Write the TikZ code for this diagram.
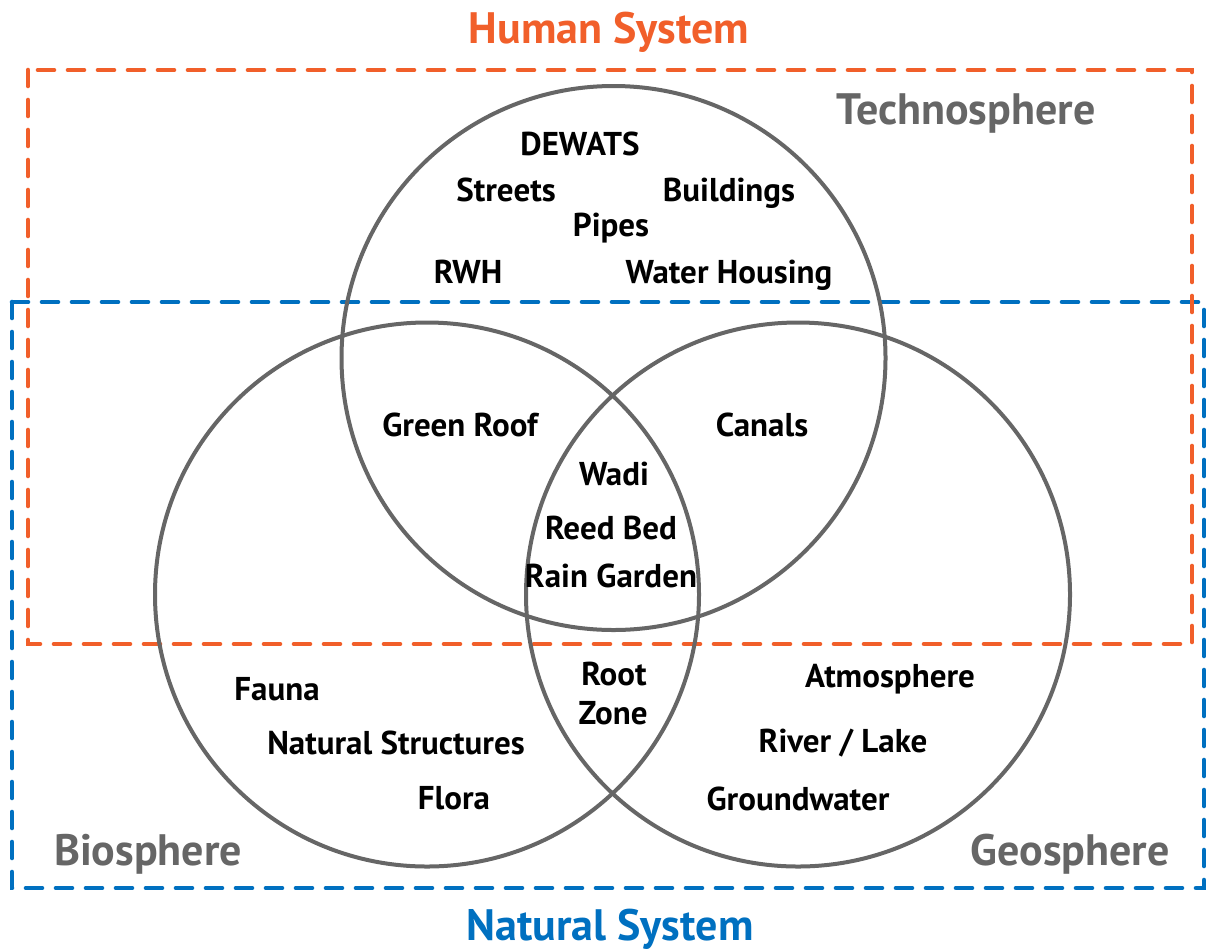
\documentclass[tikz,border=0pt]{standalone}
\usepackage{fontspec}
\setmainfont{PT Sans}
\usepackage{tikz}
\usetikzlibrary{positioning}
\definecolor{humanorange}{HTML}{F15F2A}
\definecolor{natureblue}{HTML}{0070C0}
\definecolor{ringgray}{HTML}{666666}
\newcommand{\mLabel}[3]{\node[inner] (#1) at (#2) {#3}}
\newcommand{\mSphere}[3]{\node[sphere] (#1) at (#2) {#3}}
\tikzset{
  inner/.style={font=\fontsize{33}{33}\selectfont\bfseries, anchor=base, inner sep=0pt},
  sphere/.style={font=\fontsize{44}{44}\selectfont\bfseries, text=ringgray, anchor=base, inner sep=0pt},
  system/.style={font=\fontsize{44}{44}\selectfont\bfseries, anchor=base, inner sep=0pt},
  ring/.style={draw=ringgray, line width=4pt},
  bound/.style={line width=4.6pt, line cap=round, dash pattern=on 16pt off 14pt},
}

\begin{document}
\begin{tikzpicture}[x=1pt,y=1pt]
    \useasboundingbox (0,0) rectangle (1206,-951);
    % system boxes
    \draw [bound, natureblue] (12,-302) rectangle (1204,-888);
    \draw [bound, humanorange] (28,-70) rectangle (1192,-644);
    \node[system, text=humanorange] (human) at (609,-43) {Human System};
    \node[system, text=natureblue] (natural) at (610,-940) {Natural System};
    % the three spheres
    \coordinate (techno) at (613.5,-358);
    \coordinate (bio) at (427,-594.5);
    \coordinate (geo) at (798,-594.5);
    \draw [ring] (techno) circle (272);
    \draw [ring] (bio) circle (272);
    \draw [ring] (geo) circle (272);
    \mSphere{technoname}{966,-124}{Technosphere};
    \mSphere{bioname}{148,-865}{Biosphere};
    \mSphere{geoname}{1070,-865}{Geosphere};
    % technosphere only
    \mLabel{dewats}{580,-155}{DEWATS};
    \mLabel{streets}{506,-201}{Streets};
    \mLabel{buildings}{729,-201}{Buildings};
    \mLabel{pipes}{611,-236}{Pipes};
    \mLabel{rwh}{468,-283}{RWH};
    \mLabel{housing}{729,-283}{Water Housing};
    % overlaps
    \mLabel{roof}{460,-436}{Green Roof};
    \mLabel{canals}{762,-436}{Canals};
    \mLabel{wadi}{614,-485}{Wadi};
    \mLabel{reed}{611,-539}{Reed Bed};
    \mLabel{rain}{611,-587}{Rain Garden};
    \mLabel{root}{614,-685}{Root};
    \mLabel{zone}{613,-724}{Zone};
    % biosphere only
    \mLabel{fauna}{277,-700}{Fauna};
    \mLabel{structures}{396,-754}{Natural Structures};
    \mLabel{flora}{454,-809}{Flora};
    % geosphere only
    \mLabel{atmo}{890,-687}{Atmosphere};
    \mLabel{river}{843,-752}{River / Lake};
    \mLabel{ground}{798,-810}{Groundwater};
\end{tikzpicture}
\end{document}
